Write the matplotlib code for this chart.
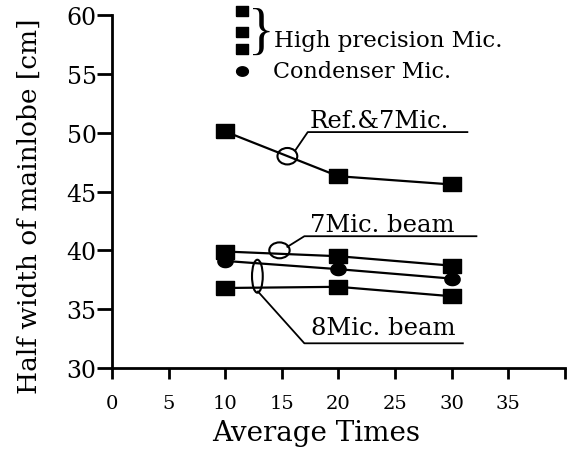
import matplotlib
matplotlib.use('Agg')
import matplotlib.pyplot as plt
import numpy as np
from matplotlib.patches import Ellipse

plt.rcParams['font.family'] = ['DejaVu Serif']

# data
avg_times = [10, 20, 30]
ref_7mic = [50.1, 46.3, 45.6]
beam_7mic = [39.9, 39.5, 38.7]
condenser = [39.1, 38.4, 37.6]
beam_8mic = [36.8, 36.9, 36.1]

x_ticks = [0, 5, 10, 15, 20, 25, 30, 35, 40]
x_tick_labels = ['0', '5', '10', '15', '20', '25', '30', '35', '']
y_ticks = [30, 35, 40, 45, 50, 55, 60]

fig = plt.figure(figsize=(5.71, 4.52), dpi=100)
ax = fig.add_axes([0.196, 0.1836, 0.793, 0.781])
ax.set_xlim(0, 40)
ax.set_ylim(30, 60)

# markers in the scan are a bit wider than tall
rect = [(-1, -0.75), (1, -0.75), (1, 0.75), (-1, 0.75), (-1, -0.75)]
t = np.linspace(0, 2 * np.pi, 40)
oval = list(zip(np.cos(t), 0.8 * np.sin(t)))

lw = 1.6
sq = dict(marker=rect, markersize=12.5, color='black', linewidth=lw)
ci = dict(marker=oval, markersize=11, color='black', linewidth=lw)

ax.plot(avg_times, ref_7mic, **sq)
ax.plot(avg_times, beam_7mic, **sq)
ax.plot(avg_times, condenser, **ci)
ax.plot(avg_times, beam_8mic, **sq)

# annotation circles / ellipse with leader lines
ann = dict(color='black', linewidth=1.3, clip_on=False)
ring = dict(fill=False, edgecolor='black', linewidth=1.5)
ax.add_patch(Ellipse((15.5, 48.0), 1.75, 1.4, **ring))
ax.plot([16.2, 17.3, 31.4], [48.5, 50.05, 50.05], **ann)
ax.text(17.5, 50.5, 'Ref.&7Mic.', ha='left', va='baseline', fontsize=17.5)

ax.add_patch(Ellipse((14.8, 40.0), 1.8, 1.35, **ring))
ax.plot([15.5, 17.0, 32.2], [40.3, 41.2, 41.2], **ann)
ax.text(17.5, 41.65, '7Mic. beam', ha='left', va='baseline', fontsize=17.5)

ax.add_patch(Ellipse((12.85, 37.8), 0.95, 2.8, **ring))
ax.plot([12.9, 17.0, 31.0], [36.5, 32.1, 32.1], **ann)
ax.text(17.6, 32.9, '8Mic. beam', ha='left', va='baseline', fontsize=17.5)

# legend drawn by hand
ax.plot([11.47, 11.47, 11.47], [60.3, 58.55, 57.1], linestyle='none', marker=rect,
        markersize=9, color='black', clip_on=False)
ax.plot([11.47], [55.2], linestyle='none', marker=oval, markersize=8.5,
        color='black', clip_on=False)
ax.text(13.2, 58.4, '}', ha='center', va='center', fontsize=40,
        family='Liberation Serif')
ax.text(14.35, 57.36, 'High precision Mic.', ha='left', va='baseline', fontsize=16.5)
ax.text(14.2, 54.7, 'Condenser Mic.', ha='left', va='baseline', fontsize=16)

ax.spines['top'].set_visible(False)
ax.spines['right'].set_visible(False)
ax.spines['left'].set_linewidth(2)
ax.spines['bottom'].set_linewidth(2)
ax.set_xticks(x_ticks)
ax.set_xticklabels(x_tick_labels)
ax.set_yticks(y_ticks)
ax.tick_params(axis='x', direction='out', length=8, width=2, labelsize=14, pad=11)
ax.tick_params(axis='y', direction='out', length=11, width=2, labelsize=17, pad=0)

ax.set_xlabel('Average Times', fontsize=20)
ax.set_ylabel('Half width of mainlobe [cm]', fontsize=19)
ax.xaxis.set_label_coords(0.45, -0.145)
ax.yaxis.set_label_coords(-0.155, 0.462)

fig.savefig('out.png', dpi=100, facecolor='white')
